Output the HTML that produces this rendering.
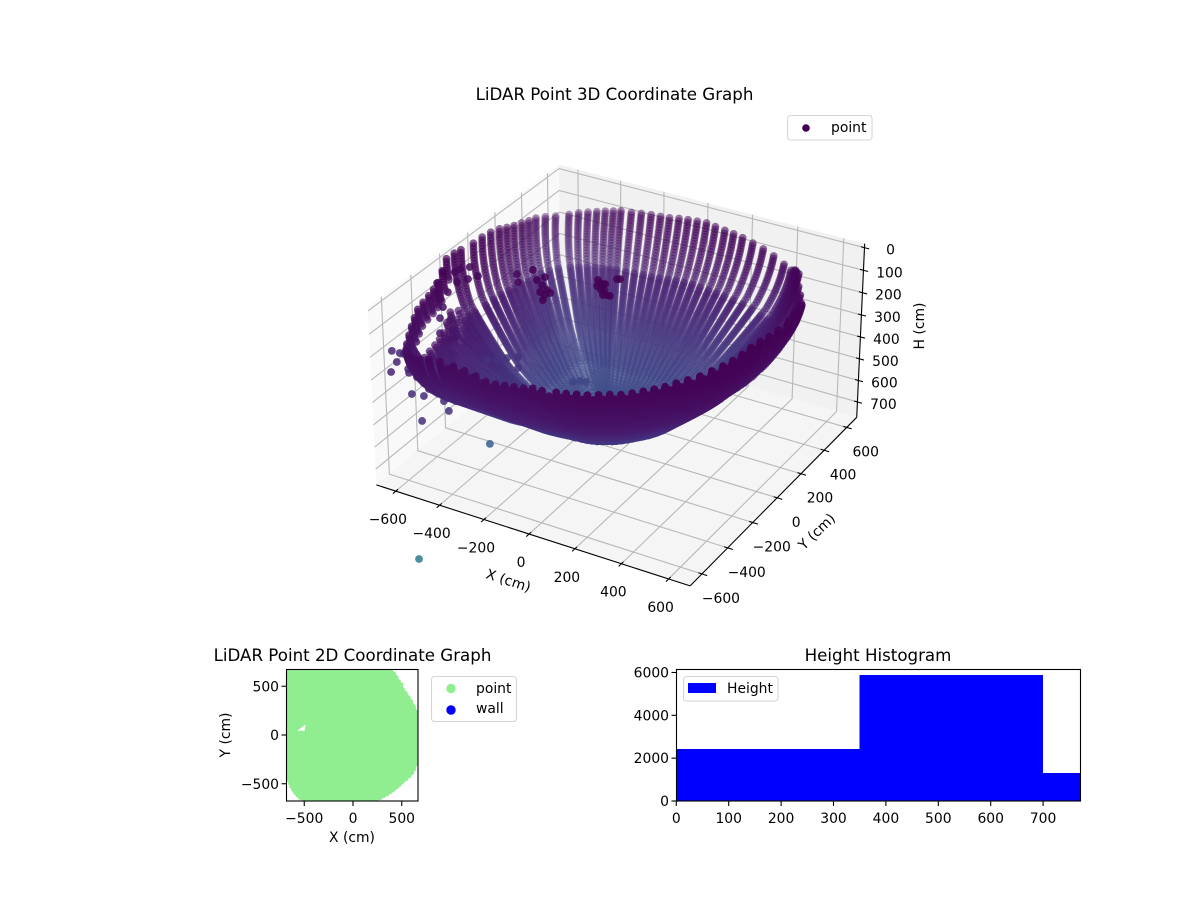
<!DOCTYPE html>
<html lang="en">
<head>
<meta charset="utf-8">
<title>LiDAR Point Graphs</title>
<style>
html,body{margin:0;padding:0;background:#fff;width:1200px;height:900px;overflow:hidden}
svg{display:block}
text{font-family:"DejaVu Sans","Liberation Sans",sans-serif;fill:#000}
</style>
</head>
<body>
<svg id="fig" xmlns="http://www.w3.org/2000/svg" width="1200" height="900" viewBox="0 0 1200 900">
  <defs>
    <clipPath id="clip2d"><rect x="286.5" y="669.5" width="131.5" height="131.5"/></clipPath>
  </defs>
  <g id="g3d"></g>
  <text x="614.5" y="100" font-size="16.67" text-anchor="middle">LiDAR Point 3D Coordinate Graph</text>
  <text transform="translate(507,585) rotate(18)" font-size="13.9" text-anchor="middle">X (cm)</text>
  <text transform="translate(820,535) rotate(-44)" font-size="13.9" text-anchor="middle">Y (cm)</text>
  <text transform="translate(924,326) rotate(-90)" font-size="13.9" text-anchor="middle">H (cm)</text>
  <g>
    <rect x="787.5" y="115.5" width="84.5" height="24.5" rx="3" fill="#fff" fill-opacity=".8" stroke="#d5d5d5" stroke-width="1.1"/>
    <circle cx="806" cy="128" r="3.8" fill="#440154"/>
    <text x="831" y="132" font-size="13.9">point</text>
  </g>

  <g id="g2d"></g>
  <text x="352.5" y="661" font-size="16.67" text-anchor="middle">LiDAR Point 2D Coordinate Graph</text>
  <text x="352" y="842" font-size="13.9" text-anchor="middle">X (cm)</text>
  <text transform="translate(230,735) rotate(-90)" font-size="13.9" text-anchor="middle">Y (cm)</text>
  <g>
    <rect x="431.5" y="676.5" width="85" height="45" rx="3" fill="#fff" stroke="#d5d5d5" stroke-width="1.1"/>
    <circle cx="451" cy="688.5" r="4.7" fill="#90ee90"/>
    <text x="476" y="693" font-size="13.9">point</text>
    <circle cx="451" cy="710" r="4.7" fill="#0000ff"/>
    <text x="476" y="713" font-size="13.9">wall</text>
  </g>

  <g id="ghist"></g>
  <text x="878" y="661" font-size="16.67" text-anchor="middle">Height Histogram</text>
  <g>
    <rect x="683.5" y="676.5" width="94.5" height="24.5" rx="3" fill="#fff" fill-opacity=".8" stroke="#d5d5d5" stroke-width="1.1"/>
    <rect x="688" y="683" width="28" height="10" fill="#0000ff"/>
    <text x="727" y="693" font-size="13.9">Height</text>
  </g>
</svg>
<script>
// ---------- chart data ----------
const xTicks3d = [-600,-400,-200,0,200,400,600];
const yTicks3d = [-600,-400,-200,0,200,400,600];
const hTicks3d = [0,100,200,300,400,500,600,700];
const xTicks2d = [-500,0,500];
const yTicks2d = [-500,0,500];
const histXTicks = [0,100,200,300,400,500,600,700];
const histYTicks = [0,2000,4000,6000];
const histEdges = [0,350,700,770.5];
const histCounts = [2430,5890,1310];
const gapX = [-571,-486,-496];
const gapY = [44,109,44];

// scan columns: azimuth in degrees, rim radius (cm), rim height (cm), wall steepness
const scanAzimuth = [
-174,-170,-165,-162.5,-160,-157.5,-155,-152.5,-150,-147.5,
-145,-142.5,-140,-137.5,-135,-132.5,-130,-127.5,-125,-122.5,
-120,-116.5,-113,-109.5,-106,-102.5,-99,-95.5,-92,-88.5,
-85,-80,-76.6,-73.2,-69.9,-66.6,-63.3,-60,-56.7,-53.4,
-50.1,-46.8,-43.4,-40,-36.4,-32.8,-29,-25.1,-21,-16.7,
-12,-6.8,-1.1,6,11,15,20,25,30,34,
38.5,42,46.3,49.3,53,56,59.4,62.5,66,69.2,
72.6,75.8,79.3,82.6,86.2,89.6,93.3,96.9,100.3,103.7,
107,110.3,113.6,116.8,120,122.2,124.4,126.6,128.8,131,
133.2,136.6,140,143.6,147.2,151,154.9,159,163.3,168,
173.2,179];
const rimRadius = [
680,686,696,705,714,726,740,758,776,788,
800,812,824,832,838,842,842,838,828,804,
776,745,725,706,694,684,678,675,672,675,
680,688,696,704,706,704,701,700,700,699,
698,698,700,707,714,720,718,710,702,693,
688,683,680,683,687,690,690,689,688,688,
690,692,717,722,740,755,768,762,745,725,
708,690,684,678,674,672,676,682,688,692,
704,720,735,752,776,802,828,855,878,905,
930,935,900,860,810,770,745,720,700,690,
680,672];
const rimHeight = [
22,15,10,48,85,98,110,122,134,152,
170,188,205,208,195,185,176,167,155,140,
140,147,153,162,172,170,162,155,148,135,
132,121,114,106,104,100,98,99,93,88,
83,77,68,58,48,34,28,24,20,14,
14,22,27,29,30,31,55,82,107,98,
90,85,88,100,120,142,168,158,136,115,
100,84,79,74,68,62,67,72,77,83,
88,92,97,103,109,123,136,150,162,176,
192,195,172,148,125,104,90,72,52,42,
35,30];
const wallSteepness = [
.6,.6,.7,.8,.9,1,1,1,1,1,
1,1,1,1,1,1,1,1,1,1,
1,1,1,1,1,1,1,1,1,1,
1,1,1,1,1,1,1,1,1,1,
1,1,1,1,1,1,1,1,1,1,
1,1,1,1,1,1,1,1,1,1,
.9,.8,.7,.7,.6,.6,.6,.6,.6,.6,
.6,.6,.6,.6,.6,.6,.6,.6,.6,.6,
.6,.6,.6,.6,.6,.6,.6,.6,.6,.6,
.6,.6,.6,.6,.6,.6,.6,.6,.6,.6,
.6,.6];
// scan rings: fraction of rim radius, fraction of depth from rim to floor of bowl
const ringRadius = [1,.998,.995,.992,.988,.984,.979,.973,.967,.96,.953,.945,.936,.927,.917,.906,.895,.883,.87,.852,.834,.824,.815,.805,.795,.785,.775,.765,.755,.745,.735,.725,.715,.705,.695,.685,.675,.665,.655,.645,.635,.625,.615,.605,.595,.585,.575,.565,.555,.545,.535,.525,.515,.503,.492,.48,.467,.453,.44,.427,.413,.4,.387,.373,.36,.347,.333,.32,.307,.293,.28,.26,.24,.22,.2,.18,.16,.14,.12,.1,.08,.06,.04,.02];
const ringDepth = [0,.02,.04,.06,.08,.1,.12,.14,.16,.18,.2,.22,.24,.26,.28,.3,.32,.34,.36,.38,.4,.41,.42,.43,.44,.45,.46,.47,.48,.49,.5,.51,.52,.53,.54,.55,.56,.57,.58,.59,.6,.61,.62,.63,.64,.65,.66,.67,.68,.69,.7,.71,.72,.73,.74,.75,.76,.77,.78,.79,.8,.81,.82,.83,.84,.85,.86,.87,.88,.89,.9,.91,.92,.93,.94,.95,.958,.966,.973,.98,.986,.991,.995,.998];
// extra partial columns that close the front wall below its scalloped rim
const skirtAzimuth = [-118.2,-114.7,-111.2,-107.7,-104.2,-100.7,-97.2,-93.7,-90.2,-86.7,-82.5,-78.3,-74.9,-71.5,-68.2,-65,-61.6,-58.3,-55,-51.7,-48.4,-45.1,-41.7,-38.2,-34.6,-30.9,-27,-23,-18.8,-14.3];
const skirtRadius = [760,735,715,700,689,681,676,673,673,677,684,692,700,705,705,702,700,700,700,698,698,699,703,710,717,719,714,706,697,690];
const skirtHeight = [143,150,157,167,171,166,158,151,141,133,126,117,110,105,102,99,98,96,90,85,80,72,63,53,41,31,26,22,17,14];
const skirtDepth = [.03,.6];
const bowlFloorHeight = 665;
const bowlFloorX = -40;
const bowlFloorY = -20;
// occluded patch of the scan: returns there come from deeper behind the front wall
const shadowAzimuth = [-165,-143];
const shadowDepth = [.16,.32];
const shadowDrop = 130;

// stray returns
const strayX = [-148,-128,-340,-306,-158,-155,-130,-114,-127,-95,-85,-137,-138,-103,-385,-338,-362,-340,-318,-321,-323,-435,-423,-630,-644,-599,-594,-563,-627,-684,-693,-681,-648,-667,-650,-649,-614,-635,-595,-602,-580,-779,-750,-736,-751,-761,-707,-700,-669,-644,-641,-618,-670,-628,-577,-573,-554,-556,-516,-478,-530,-610,-361,-487,-452,-419,-387,-351,-340,-144,-121,-100];
const strayY = [94,91,-36,-18,96,84,103,88,80,134,140,99,85,93,-13,-2,-22,-21,-19,-32,-44,-51,-62,-152,-167,-130,-153,-129,-180,-190,-220,-234,-214,-243,-249,-273,-256,-298,-267,-294,-278,-420,-409,-402,-430,-457,-419,-424,-416,-407,-412,-413,-454,-434,-391,-398,-392,-404,-381,-361,-411,-479,-387,-716,-252,-232,-210,-187,-206,-123,-107,-98];
const strayH = [104,128,135,138,94,114,108,145,145,91,91,108,128,148,60,84,94,111,128,145,162,74,101,57,67,50,91,81,101,67,104,138,135,161,185,222,229,273,263,296,289,333,340,343,370,404,394,407,421,431,441,461,478,485,465,478,485,502,502,505,535,569,646,1034,364,364,357,353,390,438,434,438];
const strayShade = [0,0,0,0,0,0,0,0,0,0,0,0,0,0,0,0,0,0,0,0,0,.02,.02,.02,.02,.02,.02,.02,.02,.02,.04,.04,.04,.04,.04,.06,.06,.06,.06,.06,.06,.1,.1,.1,.1,.1,.1,.1,.1,.1,.1,.12,.12,.12,.12,.12,.12,.12,.12,.12,.14,.14,.3,.42,.14,.14,.14,.14,.14,.2,.2,.2];

// ---------- axis functions ----------
const NS = "http://www.w3.org/2000/svg";
const xLim3d = [-690,690], yLim3d = [-690,690], hLim3d = [-18,772];
const HALF_XY = .595, HALF_Z = .338, SCALE = 3004, CX = 621, CY = 364;
function mk(parent, tag, attrs, txt){
  const el = document.createElementNS(NS, tag);
  for(const k in attrs) el.setAttribute(k, attrs[k]);
  if(txt !== undefined) el.textContent = txt;
  parent.appendChild(el);
  return el;
}
function project(x,y,h){
  const qx = (x-xLim3d[0])/(xLim3d[1]-xLim3d[0])*2*HALF_XY-HALF_XY;
  const qy = (y-yLim3d[0])/(yLim3d[1]-yLim3d[0])*2*HALF_XY-HALF_XY;
  const qz = HALF_Z-(h-hLim3d[0])/(hLim3d[1]-hLim3d[0])*2*HALF_Z;
  const u = .866*qx+.5*qy;
  const v = -.25*qx+.433*qy+.866*qz;
  const w = .433*qx-.75*qy+.5*qz;
  const d = 10-w;
  return {px:CX+SCALE*u/d, py:CY-SCALE*v/d, d:d};
}
function fmt(v){ return String(v).replace("-","\u2212"); }
function polyStr(points){ return points.map(p=>p.px.toFixed(2)+","+p.py.toFixed(2)).join(" "); }
const V = [[68,1,84],[72,36,117],[65,68,135],[53,95,141],[42,120,142],[33,145,140]];
function viridis(t){
  const f = Math.max(0,Math.min(.4999,t))*10, i = Math.floor(f), r = f-i;
  const a = V[i], b = V[i+1];
  return "rgb("+Math.round(a[0]+(b[0]-a[0])*r)+","+Math.round(a[1]+(b[1]-a[1])*r)+","+Math.round(a[2]+(b[2]-a[2])*r)+")";
}
const x2d = v => 353+v*.0975;
const y2d = v => 735-v*.0975;
const xHist = v => 676.3+v*.524;
const yHist = v => 801-v*.02142;

// ---------- 3D chart ----------
const g3d = document.getElementById("g3d");
const xa=xLim3d[0], xb=xLim3d[1], ya=yLim3d[0], yb=yLim3d[1], ht=hLim3d[0], hb=hLim3d[1];

const leftWall = mk(g3d,"polygon",{points:polyStr([project(xa,ya,hb),project(xa,yb,hb),project(xa,yb,ht),project(xa,ya,ht)]),fill:"#f9f9f9"});


const backWall = mk(g3d,"polygon",{points:polyStr([project(xa,yb,hb),project(xb,yb,hb),project(xb,yb,ht),project(xa,yb,ht)]),fill:"#f1f1f1"});


const floorPane = mk(g3d,"polygon",{points:polyStr([project(xa,ya,hb),project(xb,ya,hb),project(xb,yb,hb),project(xa,yb,hb)]),fill:"#f5f5f5"});



const gridStyle = {fill:"none",stroke:"#b8b8b8","stroke-width":1.1};
xTicks3d.forEach(t=>{
  const l = mk(g3d,"polyline",Object.assign({points:polyStr([project(t,ya,hb),project(t,yb,hb),project(t,yb,ht)])},gridStyle));
  
  
});
yTicks3d.forEach(t=>{
  const l = mk(g3d,"polyline",Object.assign({points:polyStr([project(xb,t,hb),project(xa,t,hb),project(xa,t,ht)])},gridStyle));
  
  
});
hTicks3d.forEach(t=>{
  const l = mk(g3d,"polyline",Object.assign({points:polyStr([project(xa,ya,t),project(xa,yb,t),project(xb,yb,t)])},gridStyle));
  
  
});

const axisStyle = {fill:"none",stroke:"#000","stroke-width":1.1};
const xAxisLine = mk(g3d,"polyline",Object.assign({points:polyStr([project(xa,ya,hb),project(xb,ya,hb)])},axisStyle));


const yAxisLine = mk(g3d,"polyline",Object.assign({points:polyStr([project(xb,ya,hb),project(xb,yb,hb)])},axisStyle));


const hAxisLine = mk(g3d,"polyline",Object.assign({points:polyStr([project(xb,yb,hb),project(xb,yb,ht)])},axisStyle));



xTicks3d.forEach(t=>{
  const m = mk(g3d,"polyline",Object.assign({points:polyStr([project(t,ya-20,hb),project(t,ya+15,hb)])},axisStyle));
  
  
  const p = project(t,ya,hb);
  const lab = mk(g3d,"text",{x:p.px-8,y:p.py+33,"font-size":13.9,"text-anchor":"middle"},fmt(t));
  
  
});
yTicks3d.forEach(t=>{
  const m = mk(g3d,"polyline",Object.assign({points:polyStr([project(xb-15,t,hb),project(xb+22,t,hb)])},axisStyle));
  
  
  const p = project(xb,t,hb);
  const lab = mk(g3d,"text",{x:p.px+19,y:p.py+29,"font-size":13.9,"text-anchor":"middle"},fmt(t));
  
  
});
hTicks3d.forEach(t=>{
  const m = mk(g3d,"polyline",Object.assign({points:polyStr([project(xb-15,yb,t),project(xb+20,yb,t)])},axisStyle));
  
  
  const p = project(xb,yb,t);
  const lab = mk(g3d,"text",{x:p.px+26,y:p.py+7,"font-size":13.9,"text-anchor":"middle"},fmt(t));
  
  
});

// build point list from scan lattice + stray returns
const pts = [];
scanAzimuth.forEach((az,i)=>{
  const a = az*Math.PI/180;
  ringRadius.forEach((rr,j)=>{
    const rho = rimRadius[i]*Math.pow(rr,wallSteepness[i]);
    const f = ringDepth[j];
    let h = rimHeight[i]+(bowlFloorHeight-rimHeight[i])*f;
    const t = .24*Math.pow(h/bowlFloorHeight,1.5);
    if(az>=shadowAzimuth[0] && az<=shadowAzimuth[1] && f>=shadowDepth[0] && f<=shadowDepth[1]) h += shadowDrop;
    pts.push({x:rho*Math.cos(a)+bowlFloorX*f,y:rho*Math.sin(a)+bowlFloorY*f,h:h,t:t,stray:false,ring:j});
  });
});
skirtAzimuth.forEach((az,i)=>{
  const a = az*Math.PI/180;
  ringRadius.forEach((rr,j)=>{
    const f = ringDepth[j];
    if(f<skirtDepth[0] || f>skirtDepth[1]) return;
    const rho = skirtRadius[i]*rr;
    const h = skirtHeight[i]+(bowlFloorHeight-skirtHeight[i])*f;
    pts.push({x:rho*Math.cos(a)+bowlFloorX*f,y:rho*Math.sin(a)+bowlFloorY*f,h:h,t:.24*Math.pow(h/bowlFloorHeight,1.5),stray:false,ring:j});
  });
});
strayX.forEach((sx,i)=>{
  pts.push({x:sx,y:strayY[i],h:strayH[i],t:strayShade[i],stray:true,ring:0});
});
pts.forEach(p=>{ p.s = project(p.x,p.y,p.h); });
let dMin = Infinity, dMax = -Infinity;
pts.forEach(p=>{ if(p.s.d<dMin) dMin=p.s.d; if(p.s.d>dMax) dMax=p.s.d; });
const sorted = pts.slice().sort((a,b)=>b.s.d-a.s.d);
const cloud = mk(g3d,"g",{});


sorted.forEach(p=>{
  const alpha = p.stray ? .85 : 1-.6*(p.s.d-dMin)/(dMax-dMin);
  const c = mk(cloud,"circle",{cx:p.s.px.toFixed(2),cy:p.s.py.toFixed(2),r:3.9,fill:viridis(p.t),"fill-opacity":alpha.toFixed(3)});
  
  
});

// ---------- 2D chart ----------
const g2d = document.getElementById("g2d");
const cover2d = mk(g2d,"polygon",{points:scanAzimuth.map((az,i)=>x2d(rimRadius[i]*Math.cos(az*Math.PI/180)).toFixed(1)+","+y2d(rimRadius[i]*Math.sin(az*Math.PI/180)).toFixed(1)).join(" "),fill:"#90ee90",stroke:"#90ee90","stroke-width":2.5,"clip-path":"url(#clip2d)"});


const cloud2d = mk(g2d,"g",{"clip-path":"url(#clip2d)"});


pts.forEach(p=>{
  if(p.ring%3!==0) return;
  const c = mk(cloud2d,"circle",{cx:x2d(p.x).toFixed(2),cy:y2d(p.y).toFixed(2),r:2,fill:"#90ee90"});
  
  
});
const gap = mk(g2d,"polygon",{points:gapX.map((v,i)=>x2d(v).toFixed(1)+","+y2d(gapY[i]).toFixed(1)).join(" "),fill:"#fff"});


const frame2d = mk(g2d,"rect",{x:286.5,y:669.5,width:131.5,height:131.5,fill:"none",stroke:"#000","stroke-width":1.1});


xTicks2d.forEach(t=>{
  const m = mk(g2d,"line",{x1:x2d(t),x2:x2d(t),y1:801,y2:806,stroke:"#000","stroke-width":1.1});
  
  
  const lab = mk(g2d,"text",{x:x2d(t),y:823,"font-size":13.9,"text-anchor":"middle"},fmt(t));
  
  
});
yTicks2d.forEach(t=>{
  const m = mk(g2d,"line",{x1:281.5,x2:286.5,y1:y2d(t),y2:y2d(t),stroke:"#000","stroke-width":1.1});
  
  
  const lab = mk(g2d,"text",{x:279,y:y2d(t)+5,"font-size":13.9,"text-anchor":"end"},fmt(t));
  
  
});

// ---------- histogram ----------
const gh = document.getElementById("ghist");
histCounts.forEach((n,i)=>{
  const b = mk(gh,"rect",{x:xHist(histEdges[i]),y:yHist(n),width:xHist(histEdges[i+1])-xHist(histEdges[i]),height:yHist(0)-yHist(n),fill:"#0000ff","shape-rendering":"crispEdges"});
  
  
});
const frameH = mk(gh,"rect",{x:676.5,y:669.5,width:404,height:131.5,fill:"none",stroke:"#000","stroke-width":1.1});


histXTicks.forEach(t=>{
  const m = mk(gh,"line",{x1:xHist(t),x2:xHist(t),y1:801,y2:806,stroke:"#000","stroke-width":1.1});
  
  
  const lab = mk(gh,"text",{x:xHist(t),y:823,"font-size":13.9,"text-anchor":"middle"},fmt(t));
  
  
});
histYTicks.forEach(t=>{
  const m = mk(gh,"line",{x1:671.5,x2:676.5,y1:yHist(t),y2:yHist(t),stroke:"#000","stroke-width":1.1});
  
  
  const lab = mk(gh,"text",{x:669,y:yHist(t)+5,"font-size":13.9,"text-anchor":"end"},fmt(t));
  
  
});
</script>
</body>
</html>
